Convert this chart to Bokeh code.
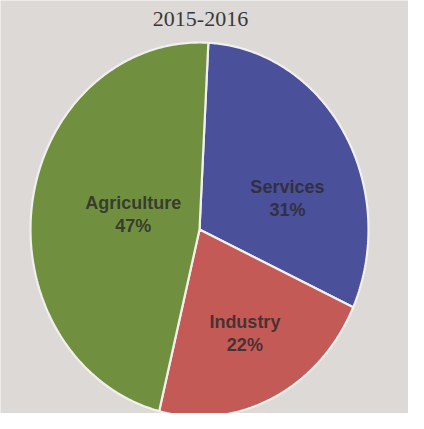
import numpy as np
from bokeh.plotting import figure
from bokeh.models import ColumnDataSource, Range1d
from bokeh.core.properties import value
from bokeh.embed import file_html
from bokeh.resources import INLINE

title = "2015-2016"
sectors = ["Services", "Industry", "Agriculture"]
shares = [31, 22, 47]
colors = ["#4b509a", "#c45a55", "#70903f"]

# layout
W, H = 408, 413
cx, cy = 199.0, 229.0       # pie centre in plot pixels (from top-left)
rx, ry = 169.0, 187.0       # ellipse radii in pixels (photo perspective)
start_deg = 87.0            # first slice starts near 12 o'clock, goes clockwise
label_r = [0.546, 0.617, 0.40]
label_shift = [-13.5, 0.0, -3.0]

p = figure(width=W, height=H, output_backend="svg", toolbar_location=None,
           x_range=Range1d(-cx / rx, (W - cx) / rx),
           y_range=Range1d(-(H - cy) / ry, cy / ry),
           min_border=0, background_fill_color="#dcd9d7",
           border_fill_color="#dcd9d7", outline_line_color=None)
p.axis.visible = False
p.grid.visible = False

total = float(sum(shares))
xs, ys, lx, ly, labels = [], [], [], [], []
a0 = start_deg
for i, (name, v) in enumerate(zip(sectors, shares)):
    span = 360.0 * v / total
    a1 = a0 - span
    t = np.radians(np.linspace(a0, a1, 200))
    xs.append([0.0] + list(np.cos(t)) + [0.0])
    ys.append([0.0] + list(np.sin(t)) + [0.0])
    mid = np.radians((a0 + a1) / 2 + label_shift[i])
    lx.append(label_r[i] * np.cos(mid))
    ly.append(label_r[i] * np.sin(mid))
    labels.append(f"{name}\n{v}%")
    a0 = a1

src = ColumnDataSource(dict(xs=xs, ys=ys, color=colors))
p.patches("xs", "ys", source=src, fill_color="color", line_color="#f2f0ee",
          line_width=2.2)

lsrc = ColumnDataSource(dict(x=lx, y=ly, text=labels))
p.text("x", "y", text="text", source=lsrc, text_align="center",
       text_baseline="middle", text_font=value("Liberation Sans"),
       text_font_style="bold", text_font_size="18px", text_color="#2c282c",
       text_alpha=0.82, text_line_height=1.15)

p.text(x=[(200 - cx) / rx], y=[(cy - 18) / ry], text=[title],
       text_align="center", text_baseline="middle",
       text_font=value("Liberation Serif"), text_font_size="22px",
       text_color="#3a3838")

open("out.html", "w").write(file_html(p, INLINE))
